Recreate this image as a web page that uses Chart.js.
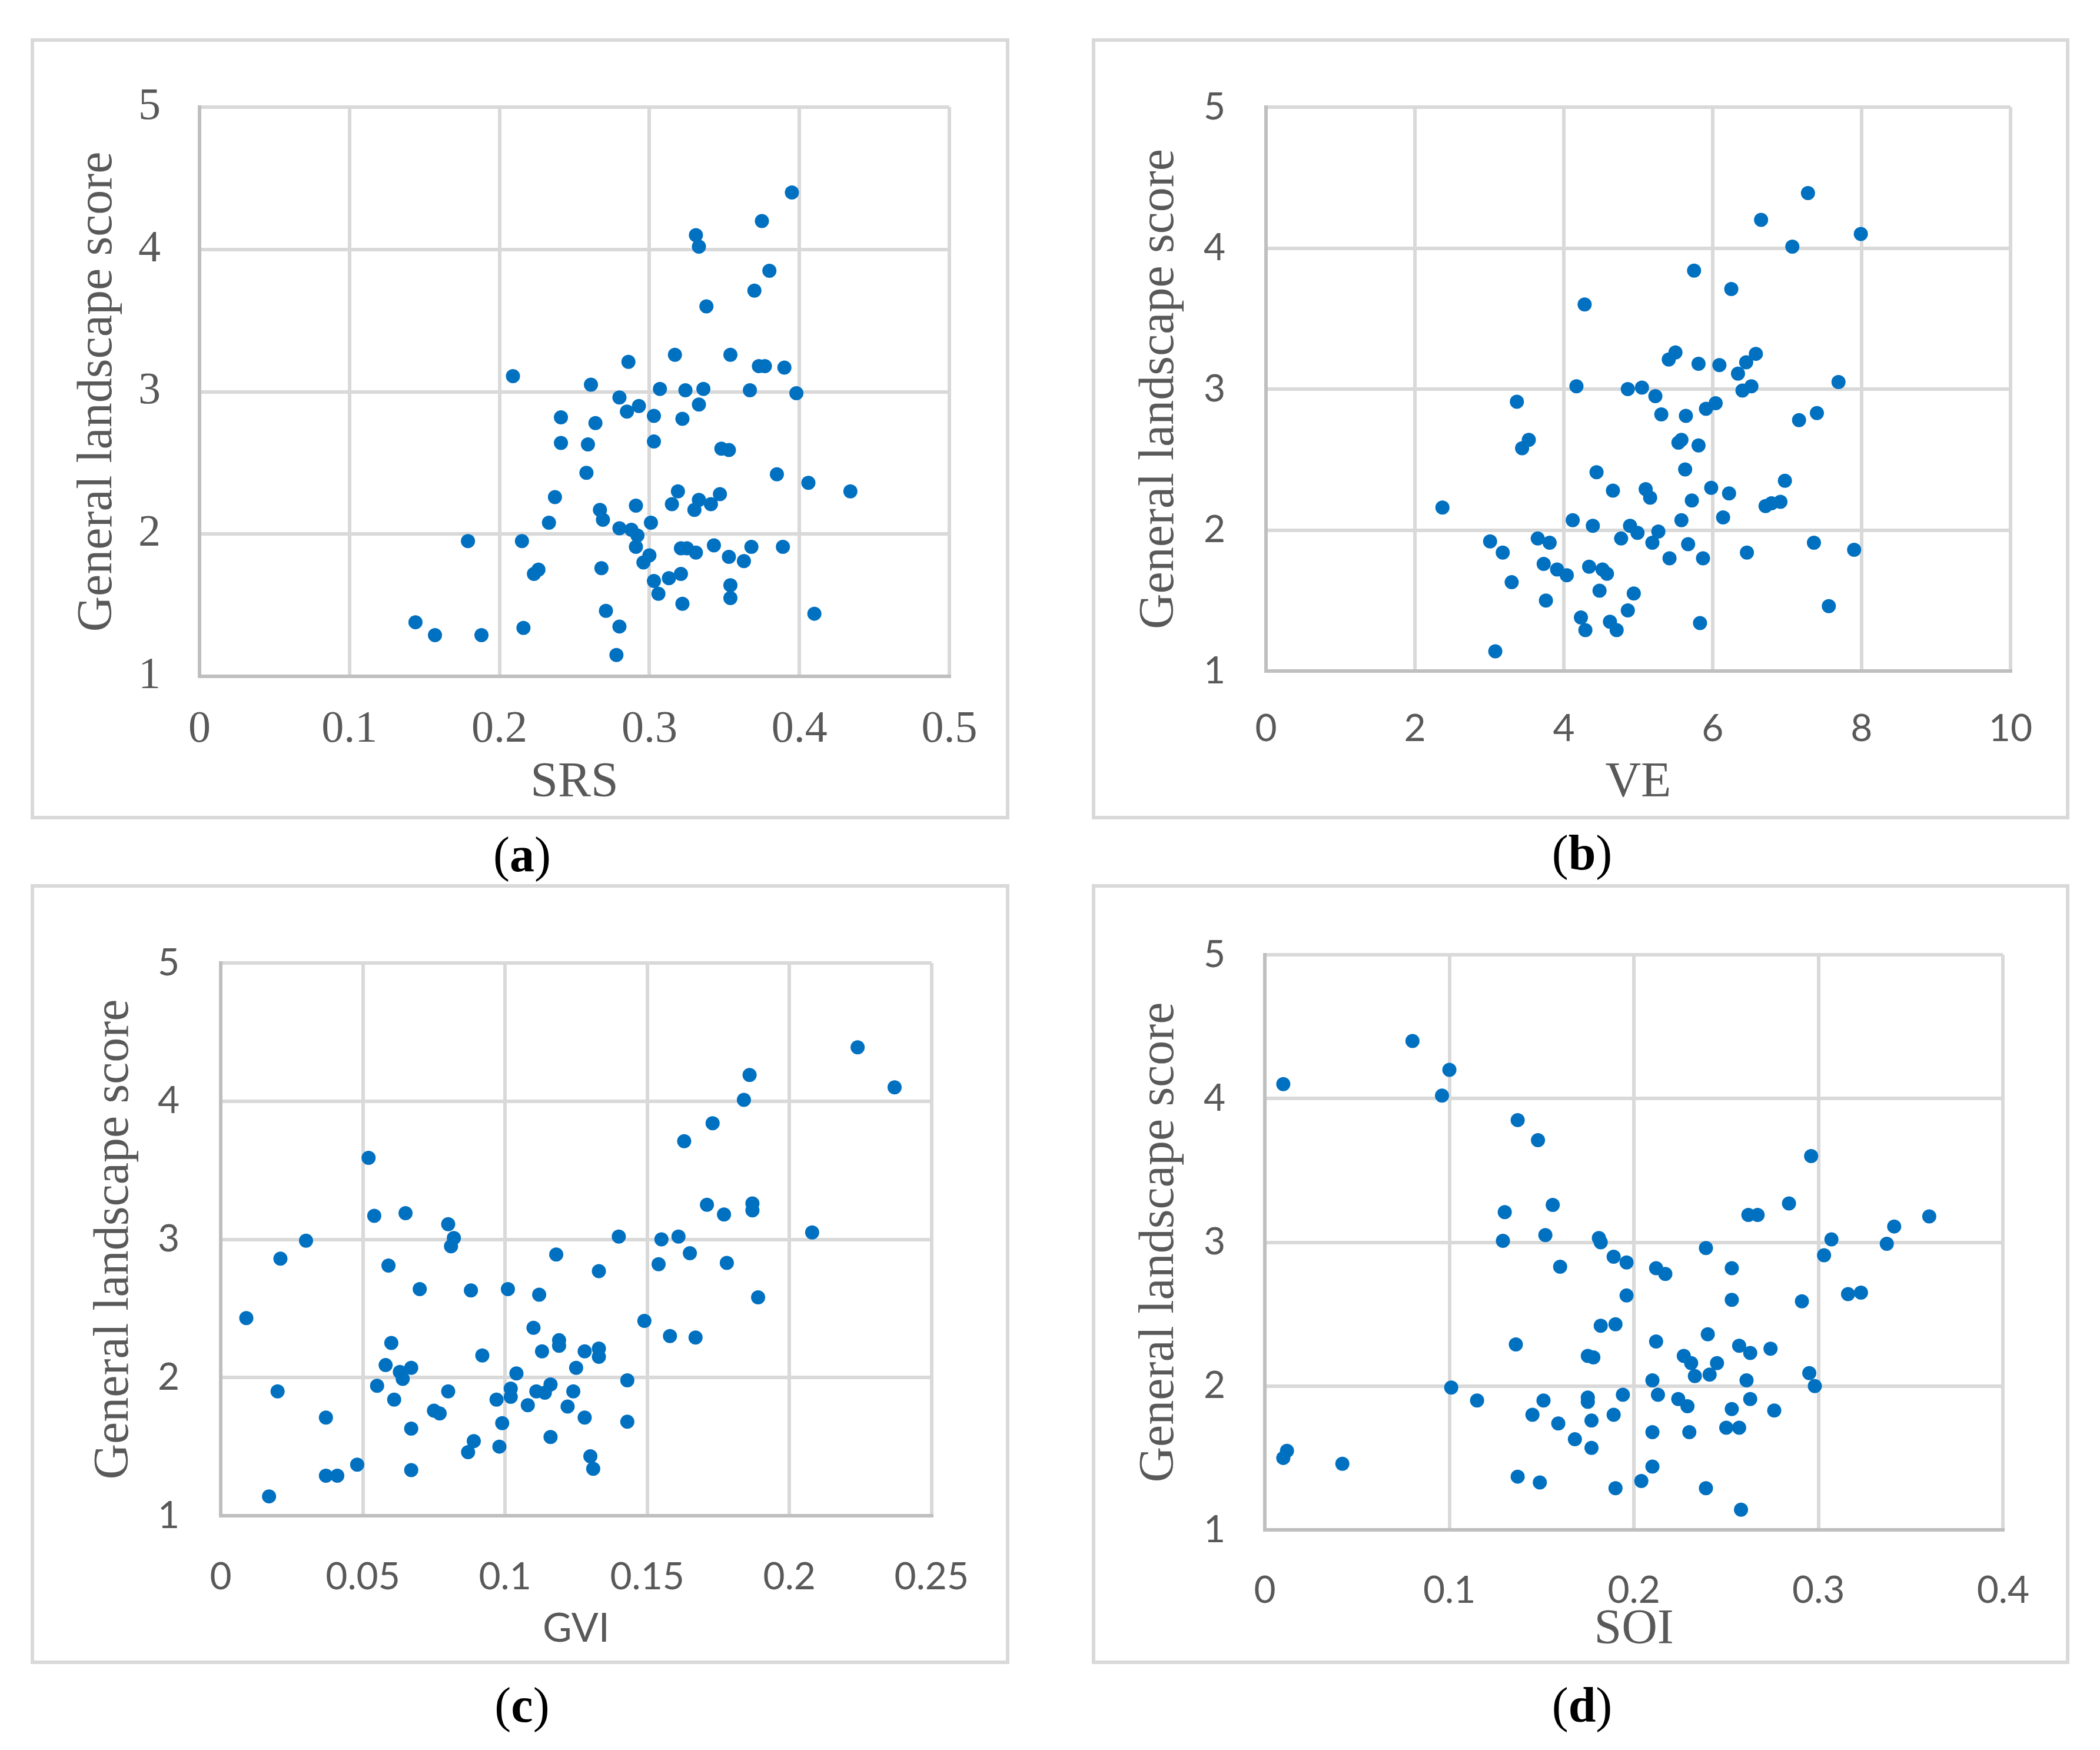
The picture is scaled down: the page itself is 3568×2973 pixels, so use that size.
<!DOCTYPE html>
<html>
<head>
<meta charset="utf-8">
<script src="https://cdn.jsdelivr.net/npm/chart.js@4.4.1/dist/chart.umd.min.js"></script>
<style>
  html, body { margin: 0; padding: 0; background: #fff; }
  body { width: 3568px; height: 2973px; position: relative; overflow: hidden; }
  .box { position: absolute; border: 6px solid #d9d9d9; box-sizing: border-box; }
  canvas.panel { position: absolute; }
  .cap { position: absolute; width: 400px; text-align: center; font-family: "Liberation Serif", serif; font-size: 84px; line-height: 100px; color: #000; }
</style>
</head>
<body>
<div class="box" style="left:52px;top:65px;width:1663px;height:1327px"></div>
<div class="box" style="left:1855px;top:65px;width:1661px;height:1327px"></div>
<div class="box" style="left:52px;top:1502px;width:1663px;height:1325px"></div>
<div class="box" style="left:1855px;top:1502px;width:1661px;height:1325px"></div>

<canvas id="cA" class="panel" width="1657" height="1321" style="left:55px;top:68px"></canvas>
<canvas id="cB" class="panel" width="1655" height="1321" style="left:1858px;top:68px"></canvas>
<canvas id="cC" class="panel" width="1657" height="1319" style="left:55px;top:1505px"></canvas>
<canvas id="cD" class="panel" width="1655" height="1319" style="left:1858px;top:1505px"></canvas>

<div class="cap" style="left:687px;top:1402px">(<b>a</b>)</div>
<div class="cap" style="left:2488px;top:1399px">(<b>b</b>)</div>
<div class="cap" style="left:687px;top:2847px">(<b>c</b>)</div>
<div class="cap" style="left:2488px;top:2847px">(<b>d</b>)</div>

<script>
// tick labels
const scoreTicks = [1, 2, 3, 4, 5];
const srsTicks = [0, 0.1, 0.2, 0.3, 0.4, 0.5];
const veTicks = [0, 2, 4, 6, 8, 10];
const gviTicks = [0, 0.05, 0.1, 0.15, 0.2, 0.25];
const soiTicks = [0, 0.1, 0.2, 0.3, 0.4];

// (a) SRS vs general landscape score
const srs = [0.395,0.375,0.331,0.333,0.380,0.370,0.338,0.317,0.354,0.286,0.373,0.377,0.390,0.209,0.261,0.307,0.324,0.336,0.367,0.398,
  0.280,0.293,0.333,0.285,0.303,0.322,0.241,0.264,0.241,0.259,0.303,0.348,0.353,0.258,0.385,0.406,0.434,0.319,0.237,0.347,
  0.333,0.315,0.291,0.341,0.267,0.330,0.269,0.233,0.301,0.280,0.288,0.292,0.179,0.215,0.291,0.300,0.321,0.325,0.331,0.343,
  0.353,0.368,0.389,0.296,0.363,0.226,0.223,0.268,0.321,0.313,0.303,0.354,0.306,0.354,0.322,0.271,0.410,0.144,0.157,0.188,
  0.216,0.280,0.278];
const srsScore = [4.40,4.20,4.10,4.02,3.85,3.71,3.60,3.26,3.26,3.21,3.18,3.18,3.17,3.11,3.05,3.02,3.01,3.02,3.01,2.99,
  2.96,2.90,2.91,2.86,2.83,2.81,2.82,2.78,2.64,2.63,2.65,2.60,2.59,2.43,2.42,2.36,2.30,2.30,2.26,2.28,
  2.24,2.21,2.20,2.21,2.17,2.17,2.10,2.08,2.08,2.04,2.03,1.99,1.95,1.95,1.91,1.85,1.90,1.90,1.87,1.92,
  1.84,1.91,1.91,1.80,1.81,1.75,1.72,1.76,1.72,1.69,1.67,1.64,1.58,1.55,1.51,1.46,1.44,1.38,1.29,1.29,
  1.34,1.35,1.15];

// (b) VE
const ve = [7.28,6.65,7.99,7.07,5.75,6.25,4.28,5.50,5.41,5.81,6.09,6.45,6.58,6.34,7.69,4.17,4.86,5.05,6.40,6.52,
  5.23,3.37,6.04,5.91,5.31,5.64,7.40,7.16,3.53,3.44,5.54,5.58,5.81,5.63,4.44,6.97,5.10,5.16,4.66,5.98,
  6.22,5.72,2.37,6.71,6.79,6.91,4.12,4.39,4.89,4.99,5.27,5.58,6.14,3.01,3.65,3.81,4.77,5.19,5.67,7.36,
  7.90,3.18,6.46,5.42,5.87,3.73,3.91,4.04,4.34,4.52,4.58,3.30,4.48,4.94,3.76,4.86,7.56,4.23,4.62,5.83,
  4.29,4.71,3.08];
const veScore = [4.39,4.20,4.10,4.01,3.84,3.71,3.60,3.26,3.21,3.18,3.17,3.19,3.25,3.11,3.05,3.02,3.00,3.01,2.99,3.02,
  2.95,2.91,2.90,2.86,2.82,2.81,2.83,2.78,2.64,2.58,2.62,2.64,2.60,2.43,2.41,2.35,2.29,2.23,2.28,2.30,
  2.26,2.21,2.16,2.17,2.19,2.20,2.07,2.03,2.03,1.98,1.99,2.07,2.09,1.92,1.94,1.91,1.94,1.91,1.90,1.91,
  1.86,1.84,1.84,1.80,1.80,1.76,1.72,1.68,1.74,1.72,1.69,1.63,1.57,1.55,1.50,1.43,1.46,1.38,1.35,1.34,
  1.29,1.29,1.14];

// (c) GVI
const gvi = [0.224,0.237,0.186,0.184,0.173,0.163,0.052,0.054,0.065,0.080,0.082,0.081,0.030,0.021,0.059,0.171,0.187,0.187,0.177,0.208,
  0.140,0.155,0.161,0.165,0.118,0.133,0.154,0.178,0.070,0.088,0.101,0.112,0.189,0.009,0.149,0.110,0.060,0.119,0.119,0.158,
  0.167,0.113,0.128,0.133,0.133,0.092,0.058,0.067,0.063,0.064,0.104,0.125,0.055,0.020,0.080,0.102,0.102,0.111,0.114,0.116,
  0.124,0.143,0.061,0.097,0.108,0.122,0.075,0.077,0.037,0.128,0.099,0.143,0.067,0.116,0.089,0.098,0.087,0.130,0.048,0.067,
  0.131,0.037,0.041,0.017];
const gviScore = [4.39,4.10,4.19,4.01,3.84,3.71,3.59,3.17,3.19,3.11,3.01,2.95,2.99,2.86,2.81,3.25,3.26,3.21,3.18,3.05,
  3.02,3.00,3.02,2.90,2.89,2.77,2.82,2.83,2.64,2.63,2.64,2.60,2.58,2.43,2.41,2.36,2.25,2.27,2.23,2.30,
  2.29,2.19,2.19,2.21,2.15,2.16,2.09,2.07,2.04,1.99,2.03,2.07,1.94,1.90,1.90,1.92,1.86,1.90,1.89,1.95,
  1.90,1.98,1.84,1.84,1.80,1.79,1.76,1.74,1.71,1.71,1.67,1.68,1.63,1.57,1.54,1.50,1.46,1.43,1.37,1.33,
  1.34,1.29,1.29,1.14];

// (d) SOI
const soi = [0.080,0.100,0.010,0.096,0.137,0.148,0.296,0.284,0.156,0.130,0.262,0.267,0.360,0.341,0.129,0.152,0.181,0.182,0.307,0.337,
  0.303,0.239,0.189,0.196,0.160,0.212,0.217,0.253,0.196,0.253,0.291,0.316,0.323,0.182,0.190,0.136,0.212,0.240,0.175,0.178,
  0.227,0.231,0.245,0.257,0.263,0.274,0.233,0.241,0.295,0.210,0.261,0.101,0.298,0.115,0.151,0.175,0.175,0.194,0.213,0.224,
  0.229,0.263,0.145,0.189,0.253,0.276,0.159,0.177,0.250,0.257,0.210,0.230,0.168,0.177,0.012,0.010,0.042,0.210,0.137,0.149,
  0.204,0.190,0.239,0.258];
const soiScore = [4.40,4.20,4.10,4.02,3.85,3.71,3.60,3.27,3.26,3.21,3.19,3.19,3.18,3.11,3.01,3.05,3.03,3.00,3.02,2.99,
  2.91,2.96,2.90,2.86,2.83,2.82,2.78,2.82,2.63,2.60,2.59,2.64,2.65,2.42,2.43,2.29,2.31,2.36,2.21,2.20,
  2.21,2.16,2.16,2.28,2.23,2.26,2.07,2.08,2.09,2.04,2.04,1.99,2.00,1.90,1.90,1.92,1.89,1.94,1.94,1.91,
  1.86,1.91,1.80,1.80,1.84,1.83,1.74,1.76,1.71,1.71,1.68,1.68,1.63,1.57,1.55,1.50,1.46,1.44,1.37,1.33,
  1.34,1.29,1.29,1.14];

const TEXT = '#595959';
const GRID = '#d9d9d9';
const AXIS = '#bfbfbf';
const DOT = '#0070c0';
const SERIF = '"Liberation Serif", "Times New Roman", serif';
const SANS = 'Lato, "Liberation Sans", sans-serif';

function toPoints(xs, ys) {
  return xs.map((x, i) => ({ x: x, y: ys[i] }));
}

// one scatter panel; sizes are in canvas pixels
function makePanel(id, p) {
  new Chart(document.getElementById(id), {
    type: 'scatter',
    data: {
      datasets: [{
        data: toPoints(p.xs, p.ys),
        backgroundColor: DOT,
        borderWidth: 0,
        pointRadius: 12,
        pointHoverRadius: 12,
        clip: false,
      }],
    },
    options: {
      responsive: false,
      animation: false,
      devicePixelRatio: 1,
      events: [],
      layout: { padding: { top: p.top, right: p.right, left: 0, bottom: 0 } },
      plugins: { legend: { display: false }, tooltip: { enabled: false } },
      scales: {
        x: {
          type: 'linear',
          min: p.xTicks[0],
          max: p.xTicks[p.xTicks.length - 1],
          afterBuildTicks: (axis) => { axis.ticks = p.xTicks.map((v) => ({ value: v })); },
          afterFit: (axis) => { axis.height = p.xAxisH; },
          grid: { color: GRID, lineWidth: 6, drawTicks: false },
          border: { color: AXIS, width: 6 },
          ticks: {
            color: TEXT,
            padding: p.xTickPad,
            maxRotation: 0,
            font: { family: p.tickFont, size: p.tickSize },
            callback: (v) => String(v),
          },
          title: {
            display: true,
            text: p.xTitle,
            color: TEXT,
            font: { family: p.xTitleFont, size: p.xTitleSize },
            padding: { top: 0, bottom: p.xTitlePad },
          },
        },
        y: {
          type: 'linear',
          min: 1,
          max: 5,
          afterBuildTicks: (axis) => { axis.ticks = scoreTicks.map((v) => ({ value: v })); },
          afterFit: (axis) => { axis.width = p.yAxisW; },
          grid: { color: GRID, lineWidth: 6, drawTicks: false },
          border: { color: AXIS, width: 6 },
          ticks: {
            color: TEXT,
            padding: p.yTickPad,
            font: { family: p.tickFont, size: p.tickSize },
            callback: (v) => String(v),
          },
          title: {
            display: true,
            text: 'General landscape score',
            color: TEXT,
            font: { family: SERIF, size: 84 },
            padding: { top: p.yTitlePad, bottom: 0 },
          },
        },
      },
    },
  });
}

makePanel('cA', {
  xs: srs, ys: srsScore, xTicks: srsTicks, xTitle: 'SRS',
  top: 114, right: 99, yAxisW: 284, xAxisH: 240,
  tickFont: SERIF, tickSize: 76, xTickPad: 45, yTickPad: 66,
  xTitleFont: SERIF, xTitleSize: 84, xTitlePad: 8, yTitlePad: 62,
});
makePanel('cB', {
  xs: ve, ys: veScore, xTicks: veTicks, xTitle: 'VE',
  top: 114, right: 90, yAxisW: 293, xAxisH: 249,
  tickFont: SANS, tickSize: 64, xTickPad: 60, yTickPad: 69,
  xTitleFont: SERIF, xTitleSize: 84, xTitlePad: 8, yTitlePad: 63,
});
makePanel('cC', {
  xs: gvi, ys: gviScore, xTicks: gviTicks, xTitle: 'GVI',
  top: 131, right: 117, yAxisW: 320, xAxisH: 249,
  tickFont: SANS, tickSize: 64, xTickPad: 66, yTickPad: 70,
  xTitleFont: SANS, xTitleSize: 68, xTitlePad: 16, yTitlePad: 90,
});
makePanel('cD', {
  xs: soi, ys: soiScore, xTicks: soiTicks, xTitle: 'SOI',
  top: 117, right: 99, yAxisW: 291, xAxisH: 225,
  tickFont: SANS, tickSize: 64, xTickPad: 65, yTickPad: 67,
  xTitleFont: SERIF, xTitleSize: 84, xTitlePad: 4, yTitlePad: 63,
});
</script>
</body>
</html>
